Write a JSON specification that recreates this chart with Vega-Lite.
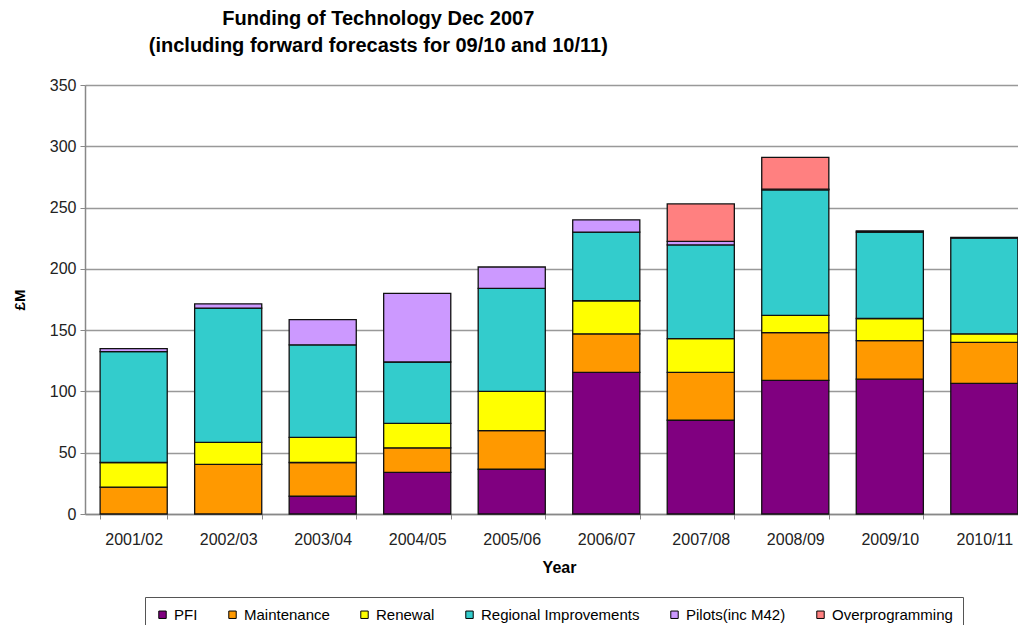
{
  "$schema": "https://vega.github.io/schema/vega-lite/v6.json",
  "width": 948,
  "height": 429,
  "autosize": {"type": "none"},
  "padding": {"left": 85, "top": 85, "right": 0, "bottom": 111},
  "background": "white",
  "title": {
    "text": ["Funding of Technology Dec 2007", "(including forward forecasts for 09/10 and 10/11)"],
    "anchor": "start",
    "align": "center",
    "dx": 366,
    "font": "Liberation Sans",
    "fontSize": 20,
    "fontWeight": "bold",
    "color": "black",
    "lineHeight": 27,
    "offset": 21
  },
  "config": {
    "view": {"stroke": null},
    "font": "Liberation Sans"
  },
  "data": {
    "values": [
      {"year": "2001/02", "cat": "Maintenance", "k": 2, "value": 22},
      {"year": "2001/02", "cat": "Renewal", "k": 3, "value": 20},
      {"year": "2001/02", "cat": "Regional Improvements", "k": 4, "value": 90.5},
      {"year": "2001/02", "cat": "Pilots(inc M42)", "k": 5, "value": 2.5},
      {"year": "2002/03", "cat": "Maintenance", "k": 2, "value": 40.5},
      {"year": "2002/03", "cat": "Renewal", "k": 3, "value": 18},
      {"year": "2002/03", "cat": "Regional Improvements", "k": 4, "value": 109.5},
      {"year": "2002/03", "cat": "Pilots(inc M42)", "k": 5, "value": 3.5},
      {"year": "2003/04", "cat": "PFI", "k": 1, "value": 14.5},
      {"year": "2003/04", "cat": "Maintenance", "k": 2, "value": 27.5},
      {"year": "2003/04", "cat": "Renewal", "k": 3, "value": 20.5},
      {"year": "2003/04", "cat": "Regional Improvements", "k": 4, "value": 75.5},
      {"year": "2003/04", "cat": "Pilots(inc M42)", "k": 5, "value": 20.5},
      {"year": "2004/05", "cat": "PFI", "k": 1, "value": 34},
      {"year": "2004/05", "cat": "Maintenance", "k": 2, "value": 20},
      {"year": "2004/05", "cat": "Renewal", "k": 3, "value": 20},
      {"year": "2004/05", "cat": "Regional Improvements", "k": 4, "value": 50},
      {"year": "2004/05", "cat": "Pilots(inc M42)", "k": 5, "value": 56},
      {"year": "2005/06", "cat": "PFI", "k": 1, "value": 36.5},
      {"year": "2005/06", "cat": "Maintenance", "k": 2, "value": 31.5},
      {"year": "2005/06", "cat": "Renewal", "k": 3, "value": 32},
      {"year": "2005/06", "cat": "Regional Improvements", "k": 4, "value": 84},
      {"year": "2005/06", "cat": "Pilots(inc M42)", "k": 5, "value": 17.5},
      {"year": "2006/07", "cat": "PFI", "k": 1, "value": 115.5},
      {"year": "2006/07", "cat": "Maintenance", "k": 2, "value": 31.5},
      {"year": "2006/07", "cat": "Renewal", "k": 3, "value": 27},
      {"year": "2006/07", "cat": "Regional Improvements", "k": 4, "value": 56},
      {"year": "2006/07", "cat": "Pilots(inc M42)", "k": 5, "value": 10},
      {"year": "2007/08", "cat": "PFI", "k": 1, "value": 76.5},
      {"year": "2007/08", "cat": "Maintenance", "k": 2, "value": 39},
      {"year": "2007/08", "cat": "Renewal", "k": 3, "value": 27.5},
      {"year": "2007/08", "cat": "Regional Improvements", "k": 4, "value": 76.5},
      {"year": "2007/08", "cat": "Pilots(inc M42)", "k": 5, "value": 3},
      {"year": "2007/08", "cat": "Overprogramming", "k": 6, "value": 30.5},
      {"year": "2008/09", "cat": "PFI", "k": 1, "value": 109},
      {"year": "2008/09", "cat": "Maintenance", "k": 2, "value": 39},
      {"year": "2008/09", "cat": "Renewal", "k": 3, "value": 14},
      {"year": "2008/09", "cat": "Regional Improvements", "k": 4, "value": 102.5},
      {"year": "2008/09", "cat": "Pilots(inc M42)", "k": 5, "value": 0.5},
      {"year": "2008/09", "cat": "Overprogramming", "k": 6, "value": 26},
      {"year": "2009/10", "cat": "PFI", "k": 1, "value": 110},
      {"year": "2009/10", "cat": "Maintenance", "k": 2, "value": 31.5},
      {"year": "2009/10", "cat": "Renewal", "k": 3, "value": 18},
      {"year": "2009/10", "cat": "Regional Improvements", "k": 4, "value": 70.5},
      {"year": "2009/10", "cat": "Pilots(inc M42)", "k": 5, "value": 1},
      {"year": "2010/11", "cat": "PFI", "k": 1, "value": 106.5},
      {"year": "2010/11", "cat": "Maintenance", "k": 2, "value": 33.5},
      {"year": "2010/11", "cat": "Renewal", "k": 3, "value": 7},
      {"year": "2010/11", "cat": "Regional Improvements", "k": 4, "value": 78},
      {"year": "2010/11", "cat": "Pilots(inc M42)", "k": 5, "value": 0.7}
    ]
  },
  "mark": {"type": "bar", "stroke": "#111111", "strokeWidth": 1.3},
  "encoding": {
    "x": {
      "field": "year",
      "type": "nominal",
      "sort": null,
      "scale": {"paddingInner": 0.29, "paddingOuter": 0.16},
      "axis": {
        "title": "Year",
        "titleFont": "Liberation Sans",
        "titleFontSize": 16,
        "titleFontWeight": "bold",
        "titleColor": "black",
        "titlePadding": 12,
        "labelAngle": 0,
        "labelFont": "Liberation Sans",
        "labelFontSize": 16,
        "labelColor": "#222222",
        "labelPadding": 12,
        "tickBand": "extent",
        "tickSize": 5,
        "tickColor": "#888888",
        "domainColor": "#888888",
        "domainWidth": 1.5,
        "grid": false
      }
    },
    "y": {
      "field": "value",
      "type": "quantitative",
      "aggregate": "sum",
      "stack": "zero",
      "scale": {"domain": [0, 350], "nice": false},
      "axis": {
        "title": "£M",
        "titleFont": "Liberation Sans",
        "titleFontSize": 15,
        "titleFontWeight": "bold",
        "titleColor": "black",
        "titlePadding": 22,
        "values": [0, 50, 100, 150, 200, 250, 300, 350],
        "labelFont": "Liberation Sans",
        "labelFontSize": 16,
        "labelColor": "#222222",
        "labelPadding": 4,
        "tickSize": 5,
        "tickColor": "#888888",
        "domainColor": "#888888",
        "domainWidth": 1.5,
        "gridColor": "#999999",
        "gridWidth": 1.5
      }
    },
    "color": {
      "field": "cat",
      "type": "nominal",
      "scale": {
        "domain": ["PFI", "Maintenance", "Renewal", "Regional Improvements", "Pilots(inc M42)", "Overprogramming"],
        "range": ["#800080", "#FF9900", "#FFFF00", "#33CCCC", "#CC99FF", "#FF8080"]
      },
      "legend": {
        "title": null,
        "orient": "none",
        "direction": "horizontal",
        "columns": 6,
        "legendX": 60,
        "legendY": 512,
        "padding": 10,
        "strokeColor": "#555555",
        "fillColor": "white",
        "symbolType": "square",
        "symbolSize": 55,
        "symbolStrokeColor": "black",
        "symbolStrokeWidth": 1,
        "symbolOpacity": 1,
        "labelFont": "Liberation Sans",
        "labelFontSize": 15,
        "labelLimit": 0,
        "labelColor": "black",
        "labelOffset": 4,
        "columnPadding": 27
      }
    },
    "order": {"field": "k", "type": "quantitative"}
  }
}
